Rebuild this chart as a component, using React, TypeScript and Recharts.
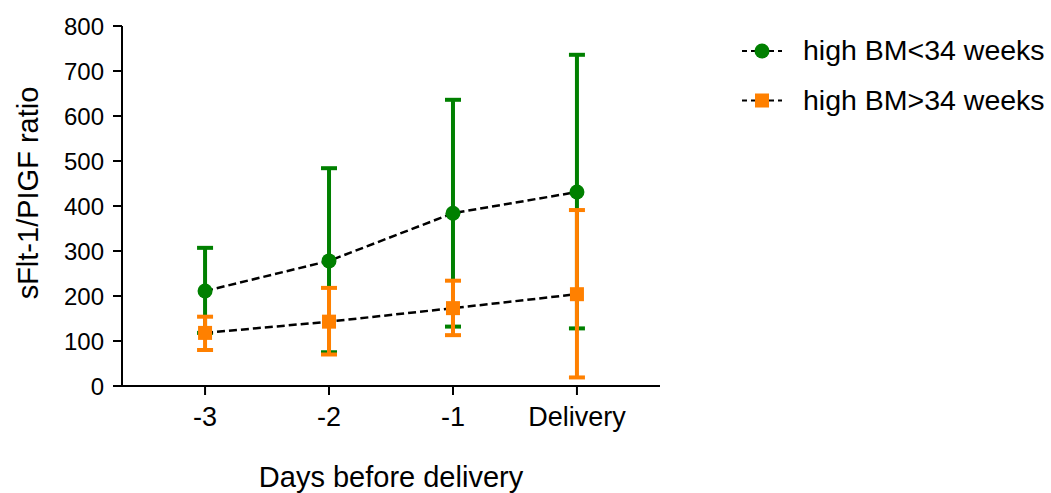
import React from 'react';
import { LineChart, Line, XAxis, YAxis, ErrorBar } from 'recharts';

const categories = ['-3', '-2', '-1', 'Delivery'];
const seriesNames = ['high BM<34 weeks', 'high BM>34 weeks'];
const greenMean = [211, 278, 384, 431];
const greenUpper = [307, 484, 636, 736];
const greenLower = [118, 75, 132, 128];
const orangeMean = [118, 143, 173, 204];
const orangeUpper = [154, 218, 234, 391];
const orangeLower = [80, 70, 113, 19];
const yTicks = [0, 100, 200, 300, 400, 500, 600, 700, 800];

const GREEN = '#008000';
const ORANGE = '#FF8000';
const FONT = '"Liberation Sans", Arial, sans-serif';

const data = categories.map((c, i) => ({
  x: i,
  g: greenMean[i],
  gErr: [greenMean[i] - greenLower[i], greenUpper[i] - greenMean[i]],
  o: orangeMean[i],
  oErr: [orangeMean[i] - orangeLower[i], orangeUpper[i] - orangeMean[i]],
}));

const CircleDot = (props: any) => {
  const { cx, cy } = props;
  if (cx == null || cy == null) return null;
  return <circle cx={cx} cy={cy} r={7.5} fill={GREEN} />;
};

const SquareDot = (props: any) => {
  const { cx, cy } = props;
  if (cx == null || cy == null) return null;
  return <rect x={cx - 7} y={cy - 7} width={14} height={14} fill={ORANGE} />;
};

const XTitle = (props: any) => {
  const vb = props.viewBox || {};
  return (
    <text
      x={vb.x + vb.width / 2}
      y={vb.y + vb.height - 6}
      textAnchor="middle"
      fontFamily={FONT}
      fontSize={29}
      fill="#000"
    >
      Days before delivery
    </text>
  );
};

const YTitle = (props: any) => {
  const vb = props.viewBox || {};
  const cx = vb.x + 28;
  const cy = vb.y + vb.height / 2 - 13;
  return (
    <text
      x={cx}
      y={cy}
      transform={`rotate(-90 ${cx} ${cy})`}
      textAnchor="middle"
      dominantBaseline="central"
      fontFamily={FONT}
      fontSize={29}
      fill="#000"
    >
      sFlt-1/PIGF ratio
    </text>
  );
};

const LegendOverlay = () => {
  const rows = [
    { name: seriesNames[0], color: GREEN, shape: 'circle', cy: 51 },
    { name: seriesNames[1], color: ORANGE, shape: 'square', cy: 100.5 },
  ];
  return (
    <svg
      width={1051}
      height={493}
      style={{ position: 'absolute', left: 0, top: 0, pointerEvents: 'none' }}
    >
      {rows.map((r) => (
        <g key={r.name}>
          <line x1={742} x2={782} y1={r.cy} y2={r.cy} stroke="#000" strokeWidth={2.2} strokeDasharray="5 4" />
          {r.shape === 'circle' ? (
            <circle cx={762} cy={r.cy} r={7.5} fill={r.color} />
          ) : (
            <rect x={755} y={r.cy - 7} width={14} height={14} fill={r.color} />
          )}
          <text x={803} y={r.cy + 9} fontFamily={FONT} fontSize={28.5} fill="#000">
            {r.name}
          </text>
        </g>
      ))}
    </svg>
  );
};

export default function App() {
  return (
    <div style={{ position: 'absolute', left: 0, top: 0, width: 1051, height: 493, background: '#fff' }}>
      <LineChart
        width={1051}
        height={493}
        data={data}
        margin={{ top: 26, right: 391, left: 0, bottom: 0 }}
      >
        <XAxis
          dataKey="x"
          type="number"
          domain={[-0.67, 3.67]}
          ticks={[0, 1, 2, 3]}
          tickFormatter={(v: number) => categories[v] ?? ''}
          allowDataOverflow
          height={107}
          axisLine={{ stroke: '#000', strokeWidth: 2 }}
          tickLine={{ stroke: '#000', strokeWidth: 2 }}
          tickSize={9}
          tickMargin={12}
          tick={{ fill: '#000', fontSize: 27, fontFamily: FONT }}
          label={<XTitle />}
        />
        <YAxis
          type="number"
          domain={[0, 800]}
          ticks={yTicks}
          width={122}
          axisLine={{ stroke: '#000', strokeWidth: 2 }}
          tickLine={{ stroke: '#000', strokeWidth: 2 }}
          tickSize={9}
          tickMargin={9}
          tick={{ fill: '#000', fontSize: 24, fontFamily: FONT }}
          label={<YTitle />}
        />
        <Line
          dataKey="g"
          stroke="#000"
          strokeWidth={2.5}
          strokeDasharray="8 4"
          dot={<CircleDot />}
          activeDot={false}
          isAnimationActive={false}
        >
          <ErrorBar dataKey="gErr" direction="y" width={8} strokeWidth={4} stroke={GREEN} />
        </Line>
        <Line
          dataKey="o"
          stroke="#000"
          strokeWidth={2.5}
          strokeDasharray="8 4"
          dot={<SquareDot />}
          activeDot={false}
          isAnimationActive={false}
        >
          <ErrorBar dataKey="oErr" direction="y" width={8} strokeWidth={4} stroke={ORANGE} />
        </Line>
      </LineChart>
      <LegendOverlay />
    </div>
  );
}
